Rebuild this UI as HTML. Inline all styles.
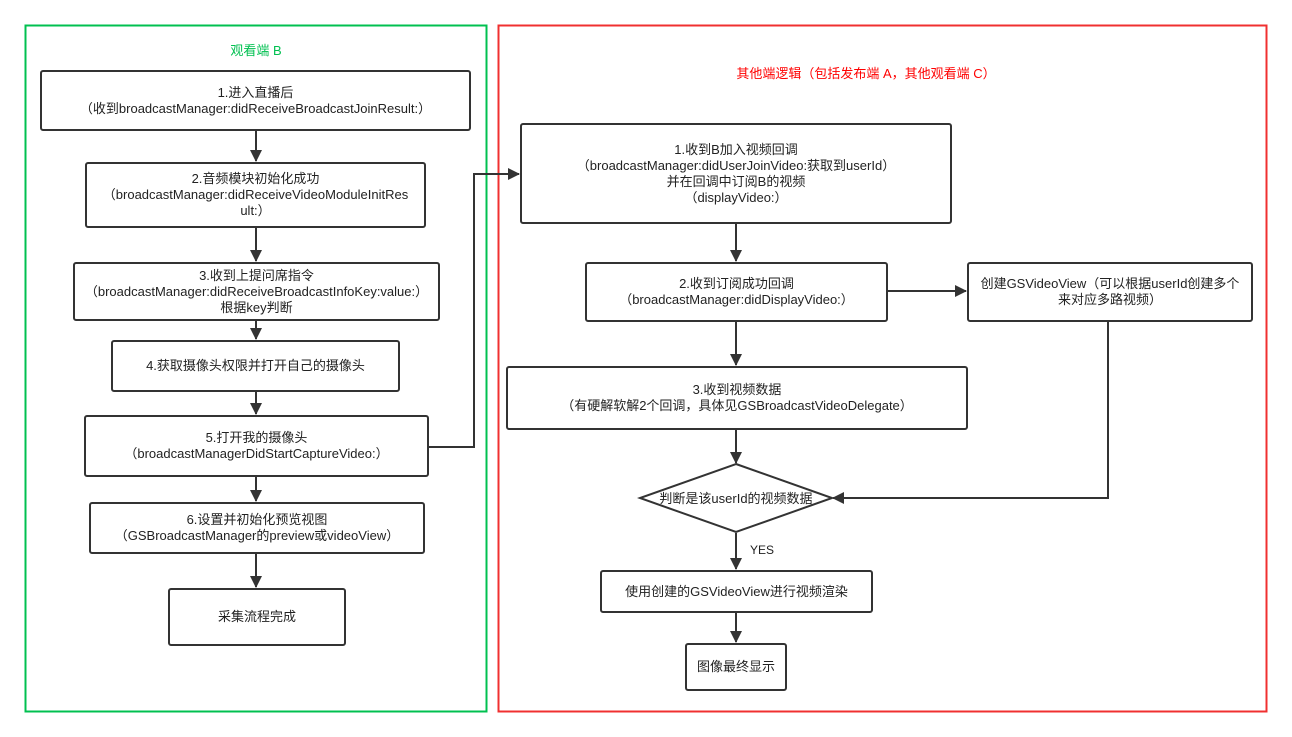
<!DOCTYPE html>
<html><head><meta charset="utf-8"><style>
body{margin:0;background:#fff;width:1292px;height:737px;position:relative;overflow:hidden;font-family:"Liberation Sans","Noto Sans CJK SC",sans-serif;}
.b{position:absolute;box-sizing:border-box;border:2px solid #333;border-radius:3px;display:flex;align-items:center;justify-content:center;text-align:center;font-size:13px;line-height:16px;color:#222;}
.t{position:absolute;font-size:13px;}
svg{position:absolute;left:0;top:0}
</style></head><body>
<svg width="1292" height="737">
<defs><marker id="a" markerWidth="12" markerHeight="12" refX="11" refY="6" orient="auto" markerUnits="userSpaceOnUse"><path d="M0,0 L12,6 L0,12 z" fill="#333"/></marker></defs>
<rect x="25.5" y="25.5" width="461" height="686" fill="none" stroke="#00c050" stroke-width="2"/>
<rect x="498.5" y="25.5" width="768" height="686" fill="none" stroke="#f03030" stroke-width="2"/>
<g stroke="#333" stroke-width="2" fill="none" marker-end="url(#a)">
<line x1="256" y1="131" x2="256" y2="161"/>
<line x1="256" y1="228" x2="256" y2="261"/>
<line x1="256" y1="321" x2="256" y2="339"/>
<line x1="256" y1="392" x2="256" y2="414"/>
<line x1="256" y1="477" x2="256" y2="501"/>
<line x1="256" y1="554" x2="256" y2="587"/>
<polyline points="429,447 474,447 474,174 519,174"/>
<line x1="736" y1="224" x2="736" y2="261"/>
<line x1="736" y1="322" x2="736" y2="365"/>
<line x1="736" y1="430" x2="736" y2="463"/>
<line x1="736" y1="533" x2="736" y2="569"/>
<line x1="736" y1="613" x2="736" y2="642"/>
<line x1="888" y1="291" x2="966" y2="291"/>
<polyline points="1108,322 1108,498 833,498"/>
</g>
<polygon points="736,464 832,498 736,532 640,498" fill="#fff" stroke="#333" stroke-width="2"/>
<text x="736" y="503" font-size="13" text-anchor="middle" fill="#222" font-family="Liberation Sans,Noto Sans CJK SC,sans-serif">判断是该userId的视频数据</text>
<text x="762" y="554" font-size="12" text-anchor="middle" fill="#222" font-family="Liberation Sans,sans-serif">YES</text>
</svg>
<div class="t" style="left:200px;top:40px;width:112px;text-align:center;color:#00c050">观看端 B</div>
<div class="t" style="left:690px;top:63px;width:352px;text-align:center;color:#f00">其他端逻辑（包括发布端 A，其他观看端 C）</div>
<div class="b" style="left:40px;top:70px;width:431px;height:61px">1.进入直播后<br>（收到broadcastManager:didReceiveBroadcastJoinResult:）</div>
<div class="b" style="left:85px;top:162px;width:341px;height:66px">2.音频模块初始化成功<br>（broadcastManager:didReceiveVideoModuleInitRes<br>ult:）</div>
<div class="b" style="left:73px;top:262px;width:367px;height:59px">3.收到上提问席指令<br>（broadcastManager:didReceiveBroadcastInfoKey:value:）<br>根据key判断</div>
<div class="b" style="left:111px;top:340px;width:289px;height:52px">4.获取摄像头权限并打开自己的摄像头</div>
<div class="b" style="left:84px;top:415px;width:345px;height:62px">5.打开我的摄像头<br>（broadcastManagerDidStartCaptureVideo:）</div>
<div class="b" style="left:89px;top:502px;width:336px;height:52px">6.设置并初始化预览视图<br>（GSBroadcastManager的preview或videoView）</div>
<div class="b" style="left:168px;top:588px;width:178px;height:58px">采集流程完成</div>
<div class="b" style="left:520px;top:123px;width:432px;height:101px">1.收到B加入视频回调<br>（broadcastManager:didUserJoinVideo:获取到userId）<br>并在回调中订阅B的视频<br>（displayVideo:）</div>
<div class="b" style="left:585px;top:262px;width:303px;height:60px">2.收到订阅成功回调<br>（broadcastManager:didDisplayVideo:）</div>
<div class="b" style="left:967px;top:262px;width:286px;height:60px">创建GSVideoView（可以根据userId创建多个<br>来对应多路视频）</div>
<div class="b" style="left:506px;top:366px;width:462px;height:64px">3.收到视频数据<br>（有硬解软解2个回调，具体见GSBroadcastVideoDelegate）</div>
<div class="b" style="left:600px;top:570px;width:273px;height:43px">使用创建的GSVideoView进行视频渲染</div>
<div class="b" style="left:685px;top:643px;width:102px;height:48px">图像最终显示</div>
</body></html>
